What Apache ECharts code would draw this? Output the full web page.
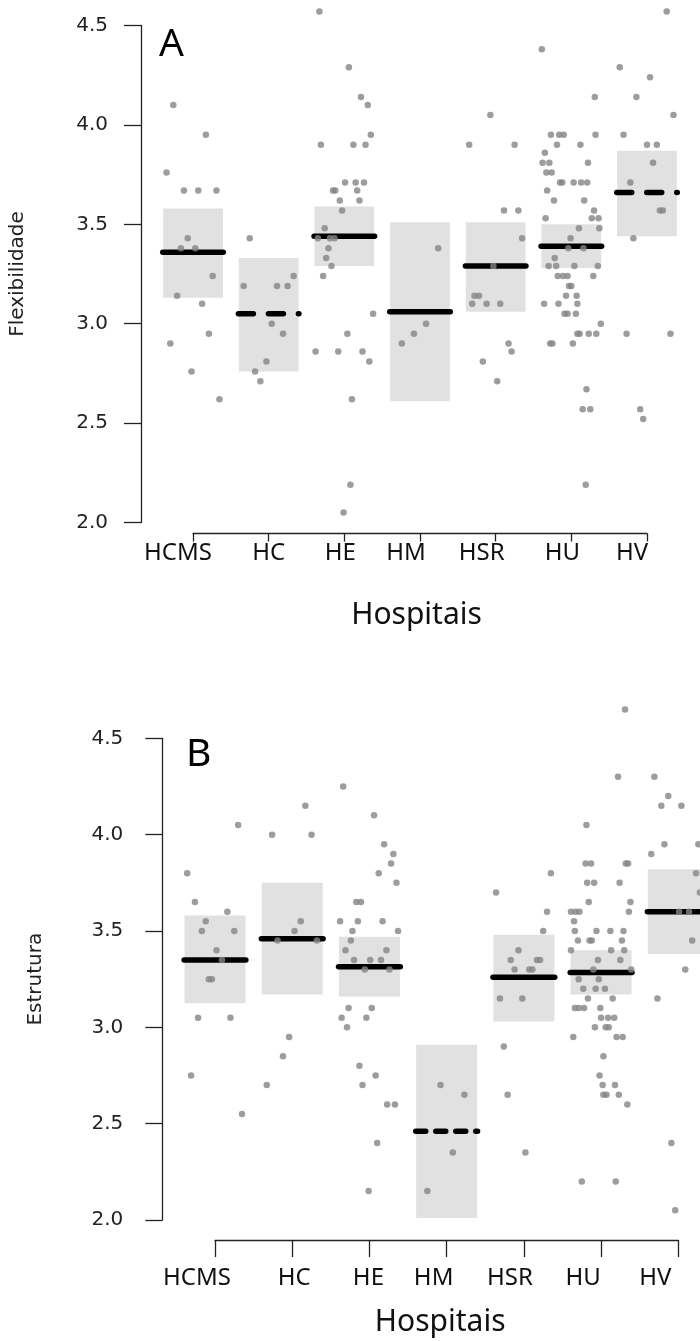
<!DOCTYPE html>
<html>
<head>
<meta charset="utf-8">
<script src="https://cdn.jsdelivr.net/npm/echarts@6/dist/echarts.min.js"></script>
<style>
  html, body { margin: 0; padding: 0; background: #fff; }
  #chart { width: 700px; height: 1341px; }
</style>
</head>
<body>
<div id="chart"></div>
<script>
var hospitals = ['HCMS', 'HC', 'HE', 'HM', 'HSR', 'HU', 'HV'];
var yTickLabels = ['2.0', '2.5', '3.0', '3.5', '4.0', '4.5'];

// painel A - Flexibilidade
var flexMean = [3.36, 3.05, 3.44, 3.06, 3.29, 3.39, 3.66];
var flexLow  = [3.13, 2.76, 3.29, 2.61, 3.06, 3.28, 3.44];
var flexHigh = [3.58, 3.33, 3.59, 3.51, 3.51, 3.50, 3.87];
// [deslocamento horizontal, valor] por hospital
var flexPoints = [
  [[-0.26,4.10],[0.17,3.95],[-0.35,3.76],[-0.12,3.67],[0.07,3.67],[0.31,3.67],[-0.07,3.43],[-0.16,3.38],
   [0.03,3.38],[0.26,3.24],[-0.21,3.14],[0.12,3.10],[0.21,2.95],[-0.30,2.90],[-0.02,2.76],[0.35,2.62]],
  [[-0.25,3.43],[0.33,3.24],[-0.33,3.19],[0.11,3.19],[0.25,3.19],[0.04,3.00],[0.19,2.95],[-0.03,2.81],
   [-0.18,2.76],[-0.11,2.71]],
  [[-0.33,4.57],[0.06,4.29],[0.22,4.14],[0.31,4.10],[0.35,3.95],[-0.31,3.90],[0.12,3.90],[0.28,3.90],
   [0.01,3.71],[0.15,3.71],[0.26,3.71],[-0.15,3.67],[-0.12,3.67],[0.17,3.67],[-0.06,3.62],[0.20,3.62],
   [-0.03,3.57],[-0.26,3.48],[-0.35,3.43],[-0.19,3.43],[-0.13,3.43],[-0.21,3.38],[-0.24,3.33],[-0.17,3.29],
   [-0.28,3.24],[0.38,3.05],[0.04,2.95],[-0.38,2.86],[-0.08,2.86],[0.24,2.86],[0.33,2.81],[0.10,2.62],
   [0.08,2.19],[-0.01,2.05]],
  [[0.24,3.38],[0.08,3.00],[-0.08,2.95],[-0.24,2.90]],
  [[-0.35,3.90],[-0.07,4.05],[0.25,3.90],[0.11,3.57],[0.30,3.57],[0.35,3.43],[-0.03,3.29],[-0.28,3.14],
   [-0.22,3.14],[-0.31,3.10],[-0.12,3.10],[0.06,3.10],[0.17,2.90],[0.21,2.86],[-0.17,2.81],[0.02,2.71]],
  [[-0.39,4.38],[0.31,4.14],[-0.27,3.95],[-0.16,3.95],[-0.10,3.95],[0.32,3.95],[-0.19,3.90],[0.12,3.90],
   [-0.35,3.86],[-0.38,3.81],[-0.29,3.81],[0.22,3.81],[-0.33,3.76],[-0.26,3.76],[-0.15,3.71],[-0.12,3.71],
   [0.03,3.71],[0.13,3.71],[0.21,3.71],[-0.32,3.67],[-0.23,3.62],[0.17,3.62],[0.30,3.57],[-0.34,3.53],
   [0.27,3.53],[0.36,3.53],[0.10,3.48],[0.37,3.48],[-0.01,3.43],[-0.04,3.38],[0.16,3.38],[-0.22,3.33],
   [-0.30,3.29],[-0.20,3.29],[0.04,3.29],[0.35,3.29],[-0.18,3.24],[-0.11,3.24],[-0.05,3.24],[0.29,3.24],
   [-0.03,3.19],[0.00,3.19],[-0.07,3.14],[0.07,3.14],[-0.36,3.10],[-0.17,3.10],[0.08,3.10],[-0.09,3.05],
   [-0.05,3.05],[0.06,3.05],[0.39,3.00],[0.08,2.95],[0.11,2.95],[0.23,2.95],[0.33,2.95],[-0.28,2.90],
   [-0.25,2.90],[0.02,2.90],[0.20,2.67],[0.15,2.57],[0.25,2.57],[0.19,2.19]],
  [[0.26,4.57],[-0.36,4.29],[0.04,4.24],[-0.14,4.14],[0.35,4.05],[-0.31,3.95],[0.00,3.90],[0.13,3.90],
   [0.08,3.81],[-0.22,3.71],[0.17,3.57],[0.21,3.57],[-0.18,3.43],[-0.27,2.95],[0.31,2.95],[-0.09,2.57],
   [-0.05,2.52]]
];

// painel B - Estrutura
var estrMean = [3.35, 3.46, 3.315, 2.46, 3.26, 3.285, 3.60];
var estrLow  = [3.125, 3.17, 3.16, 2.01, 3.03, 3.17, 3.38];
var estrHigh = [3.58, 3.75, 3.47, 2.91, 3.48, 3.40, 3.82];
var estrPoints = [
  [[0.30,4.05],[-0.36,3.80],[-0.26,3.65],[0.16,3.60],[-0.12,3.55],[-0.17,3.50],[0.25,3.50],[0.02,3.40],
   [0.09,3.35],[-0.08,3.25],[-0.04,3.25],[-0.22,3.05],[0.20,3.05],[-0.31,2.75],[0.35,2.55]],
  [[0.17,4.15],[-0.26,4.00],[0.25,4.00],[0.11,3.55],[0.03,3.50],[-0.19,3.45],[0.32,3.45],[-0.04,2.95],
   [-0.12,2.85],[-0.33,2.70]],
  [[-0.34,4.25],[0.06,4.10],[0.19,3.95],[0.31,3.90],[0.28,3.85],[0.12,3.80],[0.35,3.75],[-0.17,3.65],
   [-0.11,3.65],[-0.38,3.55],[-0.15,3.55],[0.17,3.55],[-0.22,3.50],[0.37,3.50],[-0.24,3.45],[-0.31,3.40],
   [0.22,3.40],[-0.20,3.35],[0.01,3.35],[0.15,3.35],[-0.06,3.30],[0.26,3.30],[-0.27,3.10],[0.03,3.10],
   [-0.36,3.05],[-0.04,3.05],[-0.29,3.00],[-0.13,2.80],[0.08,2.75],[-0.09,2.70],[0.23,2.60],[0.33,2.60],
   [0.10,2.40],[-0.01,2.15]],
  [[-0.08,2.70],[0.23,2.65],[0.08,2.35],[-0.25,2.15]],
  [[-0.36,3.70],[0.35,3.80],[0.30,3.60],[0.25,3.50],[-0.07,3.40],[-0.17,3.35],[0.17,3.35],[0.21,3.35],
   [-0.12,3.30],[0.07,3.30],[0.11,3.30],[-0.31,3.15],[-0.02,3.15],[-0.26,2.90],[-0.21,2.65],[0.02,2.35]],
  [[0.31,4.65],[0.22,4.30],[-0.19,4.05],[-0.20,3.85],[-0.13,3.85],[0.32,3.85],[0.35,3.85],[-0.18,3.75],
   [-0.09,3.75],[0.24,3.75],[-0.16,3.65],[0.38,3.65],[-0.39,3.60],[-0.33,3.60],[-0.28,3.60],[0.36,3.60],
   [-0.35,3.55],[-0.34,3.50],[-0.06,3.50],[0.12,3.50],[0.29,3.50],[-0.30,3.45],[-0.15,3.45],[-0.12,3.45],
   [0.27,3.45],[-0.39,3.40],[0.13,3.40],[0.30,3.40],[-0.04,3.35],[0.25,3.35],[-0.10,3.30],[0.39,3.30],
   [-0.29,3.25],[-0.03,3.25],[-0.23,3.20],[-0.07,3.20],[0.05,3.20],[-0.17,3.15],[0.15,3.15],[-0.34,3.10],
   [-0.29,3.10],[-0.22,3.10],[-0.01,3.10],[0.00,3.05],[0.09,3.05],[0.17,3.05],[-0.08,3.00],[0.06,3.00],
   [0.10,3.00],[-0.36,2.95],[0.20,2.95],[0.28,2.95],[0.03,2.85],[-0.02,2.75],[0.02,2.70],[0.18,2.70],
   [0.03,2.65],[0.07,2.65],[0.23,2.65],[0.34,2.60],[-0.25,2.20],[0.19,2.20]],
  [[-0.31,4.30],[-0.13,4.20],[-0.22,4.15],[0.04,4.15],[-0.18,3.95],[0.26,3.95],[-0.35,3.90],[0.23,3.80],
   [0.28,3.70],[0.01,3.60],[0.14,3.60],[0.18,3.45],[0.09,3.30],[-0.27,3.15],[-0.09,2.40],[-0.04,2.05]]
];

// tracejado da linha da media (0 = continua)
var flexDash = [0, 15, 0, 0, 0, 0, 15];
var estrDash = [0, 0, 0, 10, 0, 0, 0];

function boxData(low, high) {
  return hospitals.map(function (h, i) { return [i + 1, low[i], high[i]]; });
}
function meanData(mean, dash) {
  return hospitals.map(function (h, i) { return [i + 1, mean[i], dash[i]]; });
}
function pointData(pts) {
  var out = [];
  pts.forEach(function (grp, i) {
    grp.forEach(function (p) { out.push([i + 1 + p[0], p[1]]); });
  });
  return out;
}

function renderBox(params, api) {
  var x = api.value(0);
  var p1 = api.coord([x - 0.395, api.value(2)]);
  var p2 = api.coord([x + 0.395, api.value(1)]);
  return {
    type: 'rect',
    shape: { x: p1[0], y: p1[1], width: p2[0] - p1[0], height: p2[1] - p1[1] },
    style: { fill: '#e1e1e1' }
  };
}
function renderMean(params, api) {
  var x = api.value(0), m = api.value(1), d = api.value(2);
  var a = api.coord([x - 0.40, m]);
  var b = api.coord([x + 0.40, m]);
  return {
    type: 'line',
    shape: { x1: a[0], y1: a[1], x2: b[0], y2: b[1] },
    style: { stroke: '#000', lineWidth: 5.5, lineCap: 'round', lineDash: d ? [d, d] : null }
  };
}

var labelShiftA = [30, 0, 8, 28, 28, 18, 30];
var labelShiftB = [36, -4, 2, 26, 28, 36, 46];

function richFor(shift) {
  var r = {};
  shift.forEach(function (s, i) {
    r['g' + i] = {
      fontFamily: 'Noto Sans', fontSize: 24, color: '#111',
      padding: s >= 0 ? [0, s, 0, 0] : [0, 0, 0, -s]
    };
  });
  return r;
}

function xAxisFor(idx, offset, tickLen, margin, shift, nameShift) {
  return {
    type: 'value', gridIndex: idx, min: 1, max: 7, interval: 1,
    position: 'bottom', offset: offset,
    splitLine: { show: false },
    axisLine: { show: true, lineStyle: { color: '#222', width: 1.3 } },
    axisTick: { show: true, length: tickLen, lineStyle: { color: '#222', width: 1.3 } },
    axisLabel: {
      margin: margin,
      formatter: function (v) { return '{g' + (v - 1) + '|' + hospitals[v - 1] + '}'; },
      rich: richFor(shift)
    },
    name: 'Hospitais', nameLocation: 'middle', nameGap: 67,
    nameTextStyle: { fontFamily: 'Noto Sans', fontSize: 30, color: '#111', padding: [0, nameShift, 0, 0] }
  };
}
function yAxisFor(idx, offset, margin, name, nameGap) {
  return {
    type: 'value', gridIndex: idx, min: 2, max: 4.5, interval: 0.5,
    offset: offset,
    splitLine: { show: false },
    axisLine: { show: true, lineStyle: { color: '#222', width: 1.3 } },
    axisTick: { show: true, length: 17, lineStyle: { color: '#222', width: 1.3 } },
    axisLabel: {
      margin: margin, fontFamily: 'DejaVu Sans', fontSize: 20, color: '#222',
      formatter: function (v) { return yTickLabels[Math.round((v - 2) * 2)]; }
    },
    name: name, nameLocation: 'middle', nameGap: nameGap,
    nameTextStyle: { fontFamily: 'DejaVu Sans', fontSize: 20, color: '#222' }
  };
}

var chart = echarts.init(document.getElementById('chart'), null, { renderer: 'canvas' });
chart.setOption({
  backgroundColor: '#fff',
  animation: false,
  grid: [
    { left: 190, top: 25.5, width: 457, height: 497 },
    { left: 215, top: 738.3, width: 463.3, height: 481.7 }
  ],
  xAxis: [
    xAxisFor(0, 11, 8, 8, labelShiftA, 7),
    xAxisFor(1, 20, 17, 26, labelShiftB, 13)
  ],
  yAxis: [
    yAxisFor(0, 52, 33, 'Flexibilidade', 113),
    yAxisFor(1, 52.7, 39, 'Estrutura', 117)
  ],
  graphic: [
    { type: 'text', left: 159, top: 25, style: { text: 'A', fontFamily: 'Noto Sans', fontSize: 39, fill: '#000' } },
    { type: 'text', left: 186, top: 735, style: { text: 'B', fontFamily: 'Noto Sans', fontSize: 39, fill: '#000' } }
  ],
  series: [
    { type: 'custom', xAxisIndex: 0, yAxisIndex: 0, renderItem: renderBox, data: boxData(flexLow, flexHigh), clip: false, z: 1 },
    { type: 'custom', xAxisIndex: 0, yAxisIndex: 0, renderItem: renderMean, data: meanData(flexMean, flexDash), clip: false, z: 2 },
    { type: 'scatter', xAxisIndex: 0, yAxisIndex: 0, data: pointData(flexPoints), symbolSize: 6.5,
      itemStyle: { color: '#858585' }, clip: false, z: 3 },
    { type: 'custom', xAxisIndex: 1, yAxisIndex: 1, renderItem: renderBox, data: boxData(estrLow, estrHigh), clip: false, z: 1 },
    { type: 'custom', xAxisIndex: 1, yAxisIndex: 1, renderItem: renderMean, data: meanData(estrMean, estrDash), clip: false, z: 2 },
    { type: 'scatter', xAxisIndex: 1, yAxisIndex: 1, data: pointData(estrPoints), symbolSize: 6.5,
      itemStyle: { color: '#858585' }, clip: false, z: 3 }
  ]
});
</script>
</body>
</html>
